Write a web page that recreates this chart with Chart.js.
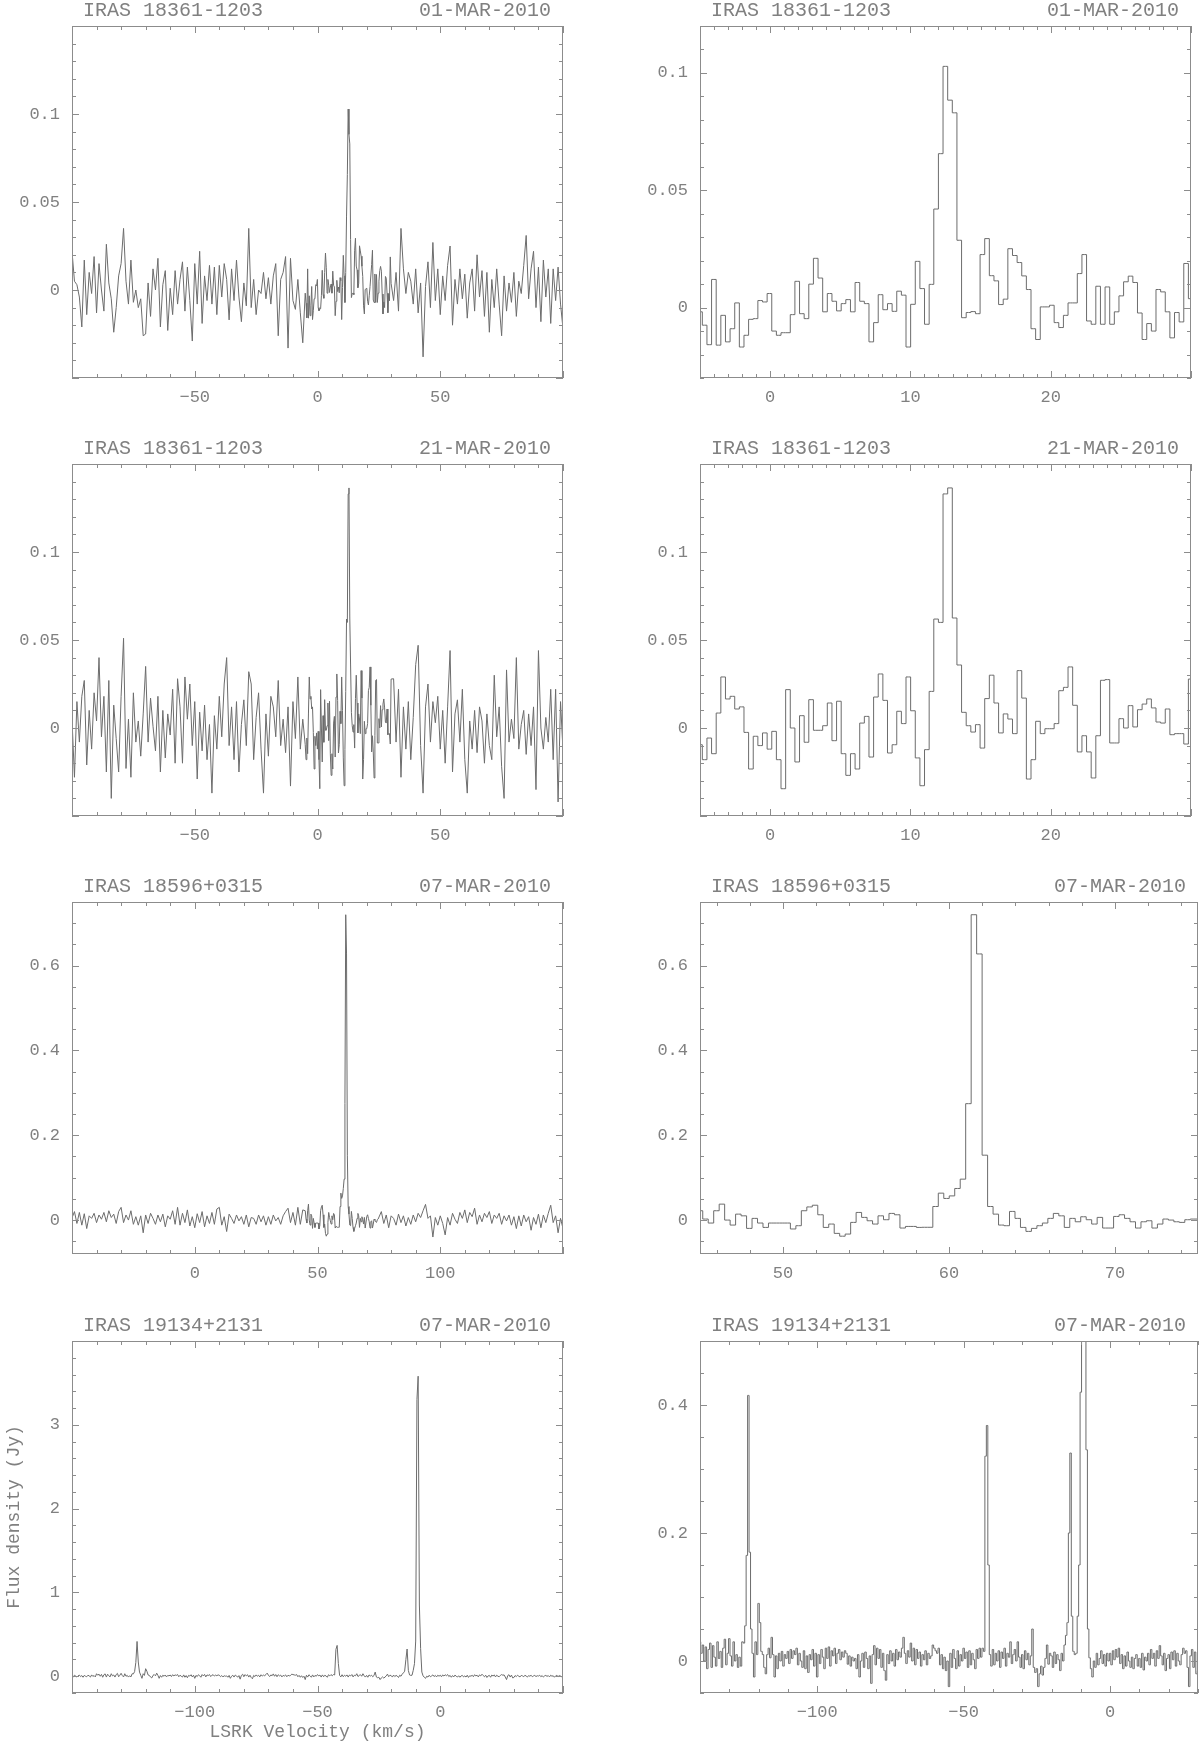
<!DOCTYPE html>
<html>
<head>
<meta charset="utf-8">
<title>Water maser spectra</title>
<script src="https://cdn.jsdelivr.net/npm/chart.js@4.4.0/dist/chart.umd.min.js"></script>
<style>
  html, body { margin: 0; padding: 0; background: #fff; overflow: hidden; }
  body { width: 1200px; height: 1746px; position: relative; }
  canvas { position: absolute; }
</style>
</head>
<body>
<script>
// --- labels of each row (same source in the left and right panel) ---
const sources = ["IRAS 18361-1203", "IRAS 18361-1203", "IRAS 18596+0315", "IRAS 19134+2131"];
const dates = ["01-MAR-2010", "21-MAR-2010", "07-MAR-2010", "07-MAR-2010"];

// --- spectra: flux density (Jy) per channel ---
// rows 1-3: coarse wings (1 km/s) around the fine channels (0.33 km/s) seen in the zoomed panel
const CHAN = 0.33;

const row1WingLeft = [ // -100 .. -6 km/s
  0.022, 0.005, 0.003, -0.004, -0.021, 0.017, -0.014, 0.010, -0.002, 0.019,
  -0.013, 0.015, 0.0, -0.012, 0.026, 0.004, -0.005, -0.024, -0.010, 0.008,
  0.015, 0.035, 0.005, -0.008, 0.017, -0.007, 0.0, -0.01, -0.005, -0.026,
  -0.025, 0.004, -0.015, 0.012, 0.0, 0.018, -0.021, 0.003, 0.011, -0.023,
  0.001, -0.014, 0.011, -0.008, 0.006, 0.016, -0.012, 0.013, -0.006, -0.029,
  0.015, -0.008, 0.022, -0.019, 0.008, -0.006, 0.014, -0.008, 0.013, -0.014,
  0.014, -0.004, 0.015, 0.006, -0.017, 0.012, -0.006, 0.017, -0.004, -0.018,
  0.004, -0.009, 0.035, -0.01, 0.006, -0.014, 0.0, -0.002, 0.01, -0.005,
  0.007, -0.008, 0.008, 0.015, -0.026, 0.006, 0.01, 0.019, -0.033, 0.018,
  -0.006, -0.011, 0.006, -0.013, -0.03
];
const row1Core = [ // from -5.0 km/s
  -0.0018, -0.0075, -0.0158, 0.012, -0.016, -0.0033, -0.0146, -0.009, 0.002, -0.0168,
  -0.0118, -0.005, -0.0047, 0.003, 0.0024, 0.006, -0.01, -0.0118, -0.0107, -0.0107,
  -0.003, 0.0112, -0.0026, -0.0047, 0.01, 0.021, 0.0126, -0.0018, 0.006, 0.0027,
  -0.0014, 0.0017, 0.0034, -0.0018, 0.0107, 0.0027, 0.0017, -0.0146, -0.0064, 0.0055,
  -0.0009, 0.0017, -0.0016, 0.007, 0.0053, -0.0168, 0.0014, 0.0197, 0.0081, -0.0071,
  0.0099, 0.042, 0.0656, 0.1028, 0.0884, 0.083, 0.0287, -0.0043, -0.0021, -0.0017,
  -0.0026, 0.0226, 0.0294, 0.0136, 0.0114, 0.0013, 0.0036, 0.0251, 0.0222, 0.0192,
  0.0135, 0.0077, -0.009, -0.0136, 0.0003, 0.0003, 0.001, -0.0064, -0.0085, -0.0033,
  0.002, 0.002, 0.0145, 0.0226, -0.0057, -0.0071, 0.0091, -0.0071, 0.0088, -0.0071,
  -0.0018, 0.005, 0.011, 0.0134, 0.0107, -0.0023, -0.0136, -0.0068, -0.01, 0.0077,
  0.0067, -0.0018, -0.0129, -0.0021, -0.0061, 0.0188, 0.0038
];
const row1WingRight = [ // 31 .. 100 km/s
  -0.006, 0.01, -0.012, 0.035, 0.012, -0.002, 0.01, 0.005, -0.008, 0.012,
  -0.013, 0.004, -0.038, 0.002, 0.016, -0.01, 0.027, -0.006, 0.012, -0.014,
  0.008, -0.006, 0.014, 0.025, -0.02, 0.006, -0.008, 0.012, -0.005, 0.009,
  -0.016, 0.004, 0.012, -0.012, 0.02, -0.004, 0.011, -0.015, 0.01, -0.024,
  0.006, -0.01, 0.012, -0.008, -0.026, 0.008, -0.012, 0.004, -0.007, 0.01,
  -0.015, 0.005, -0.002, 0.014, 0.031, -0.005, 0.012, 0.022, -0.01, 0.013,
  -0.018, 0.017, -0.004, 0.012, -0.019, 0.012, -0.006, 0.013, -0.008, -0.022
];

const row2WingLeft = [ // -100 .. -6 km/s
  0.005, -0.028, 0.015, -0.008, 0.018, 0.027, -0.021, 0.01, -0.012, 0.02,
  0.004, 0.04, -0.005, 0.018, -0.025, 0.027, -0.04, 0.013, -0.006, -0.025,
  0.018, 0.051, -0.023, 0.005, -0.028, 0.02, -0.008, 0.004, -0.016, 0.008,
  0.035, -0.008, 0.017, 0.001, -0.013, 0.018, -0.025, 0.01, -0.017, 0.008,
  -0.004, 0.022, -0.02, 0.028, 0.012, -0.02, 0.029, 0.005, 0.025, -0.01,
  0.015, -0.029, 0.009, -0.013, 0.013, -0.018, 0.002, -0.037, 0.007, -0.012,
  0.018, -0.005, 0.025, 0.04, -0.01, 0.012, -0.018, 0.015, -0.025, 0.002,
  0.016, -0.01, 0.032, 0.025, -0.018, 0.006, 0.02, -0.012, -0.037, 0.008,
  -0.016, 0.018, 0.012, -0.005, 0.027, -0.01, 0.005, -0.014, 0.012, -0.033,
  0.015, -0.006, 0.029, -0.012, 0.005
];
const row2Core = [ // from -5.0 km/s
  -0.0095, -0.018, -0.0057, -0.0146, 0.0085, 0.029, 0.0165, 0.018, 0.0108, 0.012,
  -0.0025, -0.0233, -0.0047, -0.01, -0.0028, -0.012, -0.0019, -0.018, -0.0345, 0.0218,
  0, -0.0193, 0.007, -0.0081, 0.0161, -0.0013, -0.0013, 0.0013, 0.0142, -0.0072,
  0.0152, -0.0146, -0.0269, -0.0146, -0.0233, 0.0028, 0.0066, -0.0165, 0.0176, 0.0307,
  0.0157, -0.0142, -0.0095, 0.0095, 0.0025, 0.029, 0.0098, -0.017, -0.0328, -0.0123,
  0.0208, 0.0619, 0.06, 0.133, 0.1364, 0.0625, 0.0358, 0.0089, 0.0013, -0.0023,
  0.0019, -0.0114, 0.0167, 0.03, 0.0142, -0.0028, 0.008, 0.0051, -0.0032, 0.0326,
  0.017, -0.029, -0.018, 0.0038, -0.0032, -0.0004, -0.0004, 0.0025, 0.0212, 0.0231,
  0.0347, 0.0129, -0.0136, -0.0044, -0.0136, -0.0284, -0.0044, 0.0271, 0.0275, -0.0085,
  -0.0085, 0.0053, 0, 0.0127, 0.0006, 0.0104, 0.0136, 0.0165, 0.0114, 0.0034,
  0.0028, 0.0108, -0.0038, -0.0032, -0.0032, -0.0091, 0.0278
];
const row2WingRight = [ // 31 .. 100 km/s
  0.028, -0.008, 0.022, -0.028, 0.012, -0.012, 0.015, -0.018, 0.006, 0.036,
  0.047, -0.01, -0.037, 0.012, 0.025, -0.008, 0.015, 0.003, 0.018, -0.012,
  0.01, -0.02, 0.012, 0.044, -0.025, 0.008, 0.016, -0.008, 0.022, -0.018,
  -0.037, 0.004, -0.012, 0.01, -0.014, 0.012, 0.004, -0.02, 0.008, -0.01,
  -0.018, 0.03, -0.005, 0.012, -0.022, -0.04, 0.033, -0.008, 0.005, -0.006,
  0.04, -0.012, 0.002, 0.01, -0.015, 0.008, -0.01, 0.012, -0.035, 0.044,
  0.0, -0.012, 0.006, -0.008, 0.022, -0.018, 0.022, -0.042, 0.015, -0.013
];

const row3WingLeft = [ // -50 .. 44 km/s
  0.005, 0.02, -0.008, 0.018, -0.012, 0.015, -0.02, 0.01, 0.004, 0.016,
  -0.006, 0.012, 0.002, 0.018, -0.004, 0.022, 0.006, 0.014, -0.008, 0.02,
  0.03, -0.006, 0.012, 0.0, 0.022, -0.01, 0.008, -0.012, 0.01, -0.03,
  0.012, -0.008, 0.016, 0.004, -0.01, 0.012, -0.004, 0.014, -0.016, 0.01,
  0.002, 0.022, -0.01, 0.03, -0.012, 0.016, -0.006, 0.024, -0.014, 0.008,
  -0.018, 0.015, -0.006, 0.02, -0.016, 0.01, -0.008, 0.018, -0.01, 0.026,
  0.03, -0.012, 0.008, -0.027, 0.014, 0.004, -0.008, 0.012, -0.002, 0.008,
  -0.01, 0.012, -0.016, 0.006, 0.004, -0.01, 0.012, -0.004, 0.01, -0.012,
  0.008, -0.01, 0.012, -0.002, 0.006, -0.01, 0.01, 0.02, 0.028, -0.006,
  0.018, -0.012, 0.03, -0.01, 0.024
];
const row3Core = [ // from 45.0 km/s
  0.022, 0.0024, -0.007, 0.022, 0.0376, 0, -0.0118, 0.014, 0.01, -0.0196,
  0.004, -0.007, -0.0173, -0.007, -0.007, -0.007, -0.007, -0.021, -0.0133, 0.022,
  0.031, 0.035, 0.0125, -0.0173, -0.0094, -0.0314, -0.038, -0.033, -0.0055, 0.018,
  0.0063, -0.0016, -0.0094, 0.01, 0.0008, 0.0157, 0.0125, -0.0188, -0.015, -0.015,
  -0.0173, -0.017, -0.017, 0.032, 0.0635, 0.051, 0.057, 0.0745, 0.0965, 0.2745,
  0.72, 0.6275, 0.153, 0.032, 0.014, -0.0118, -0.0133, 0.0204, 0.004, -0.0173,
  -0.0267, -0.0196, -0.0133, -0.007, 0.004, 0.0157, 0.01, -0.0173, 0.004, -0.004,
  0.0078, 0.0008, -0.0094, 0.0063, -0.0188, -0.0188, 0.0086, 0.0125, 0.004, -0.004,
  -0.0188, -0.004, -0.0016, -0.0188, -0.0094, 0.0024, 0, -0.004, -0.0055, 0.0008,
  0.0024
];
const row3WingRight = [ // 76 .. 150 km/s
  0.02, -0.008, 0.012, -0.018, 0.01, 0.004, -0.012, 0.014, -0.006, 0.01,
  -0.014, 0.006, -0.01, 0.012, -0.004, 0.016, 0.006, 0.022, 0.037, 0.004,
  0.01, -0.04, 0.006, -0.012, 0.01, -0.008, -0.035, 0.006, -0.012, 0.016,
  0.002, -0.008, 0.018, 0.004, 0.024, -0.006, 0.018, 0.008, 0.028, -0.01,
  0.012, -0.004, 0.016, 0.006, 0.02, -0.008, 0.012, 0.004, 0.016, -0.01,
  0.01, -0.002, 0.012, -0.012, 0.008, -0.02, 0.01, -0.014, 0.012, -0.004,
  0.008, -0.024, 0.006, -0.01, 0.014, -0.018, 0.012, -0.006, 0.016, 0.035,
  -0.006, 0.01, -0.03, 0.004, -0.02
];

// row 4: one grid of 0.5 km/s from -150 to 50 km/s
const row4Flux = [
  0.005, -0.008, 0.012, 0.002, -0.01, 0.006, 0.014, -0.004, 0.008, -0.012, 0.01, 0, -0.006, 0.012, 0.004, -0.01, 0.016, -0.002, 0.008, -0.008,
  0.03, 0.012, 0.025, 0, 0.022, -0.012, 0.018, 0.028, -0.01, 0.024, 0.006, -0.008, 0.03, 0.004, 0.015, -0.01, 0.02, 0.034, -0.006, 0.012,
  0.035, 0.008, -0.008, 0.03, 0, 0.01, -0.01, 0.006, -0.008, 0.03, 0.028, 0.055, 0.165, 0.415, 0.17, 0.05, 0.012, -0.025, 0.03, 0.01,
  0.09, 0.06, 0.015, 0.01, -0.01, -0.02, 0.01, 0.02, 0.005, 0.037, 0.01, -0.025, 0.008, -0.012, 0.012, 0, 0.015, -0.008, 0.01, 0.004,
  0.015, -0.004, 0.018, 0.004, 0.016, 0.01, 0.02, -0.006, 0.012, 0, -0.01, 0.016, -0.012, 0.008, -0.018, 0.01, 0.002, 0.018, -0.008, 0.012,
  -0.025, 0.01, -0.004, 0.018, 0.006, -0.012, 0.02, 0.004, 0.022, -0.008, 0.016, 0.008, 0.02, -0.004, 0.012, 0.018, 0.002, 0.014, 0.006, 0.016,
  0.012, -0.005, 0.008, -0.008, 0.006, 0, 0.004, -0.012, 0.01, -0.025, 0, 0.012, -0.01, 0.014, 0.004, -0.012, 0.008, -0.035, 0.01, 0.024,
  -0.006, 0.02, 0.004, 0.018, -0.01, 0.012, -0.015, -0.03, 0.01, -0.004, 0.016, 0, 0.012, -0.008, 0.018, 0.002, 0.014, 0.006, 0.02, 0.037,
  0.012, -0.004, 0.016, 0.006, 0.028, 0, 0.02, -0.006, 0.018, 0.004, 0.014, -0.008, 0.01, 0.002, 0.016, -0.006, 0.012, 0.004, 0.008, 0.025,
  0.02, 0.016, 0.012, 0.02, -0.006, 0.01, -0.012, 0.006, -0.015, 0, -0.04, 0.012, -0.01, 0.018, 0.004, -0.012, 0.016, -0.008, 0.01, 0,
  0.02, 0.004, 0.014, -0.01, 0.016, -0.006, 0.012, 0.002, -0.012, 0.018, 0.004, 0.02, 0.006, 0.02, 0.015, 0.32, 0.368, 0.15, 0.01, -0.008,
  0.018, -0.006, 0.012, 0, 0.016, -0.01, 0.014, 0.004, 0.02, -0.008, 0.012, 0.006, 0.03, -0.004, 0.01, 0.018, 0, 0.03, 0.006, -0.01,
  0.01, -0.012, 0.016, 0.002, 0.012, -0.006, 0.008, 0.05, -0.01, -0.018, -0.012, -0.04, -0.02, -0.008, -0.022, -0.01, 0.004, 0.025, -0.005, 0.012,
  0.008, -0.01, 0.014, -0.004, 0.01, 0.002, -0.015, 0.012, 0, 0.025, 0.04, 0.06, 0.2, 0.325, 0.07, 0.015, 0.01, 0.012, 0.07, 0.15,
  0.42, 3.3, 3.58, 0.85, 0.33, 0.05, 0.005, -0.012, -0.025, 0, -0.01, 0.012, -0.006, 0.004, 0.016, -0.004, 0.01, -0.008, 0.012, 0,
  0.012, -0.006, 0.016, 0.002, 0.018, 0.006, 0.02, -0.004, 0.01, -0.012, 0.008, -0.008, 0.014, 0, -0.01, 0.006, -0.012, 0.004, 0.01, -0.008,
  0.004, -0.01, 0.012, -0.014, 0.006, 0, 0.012, -0.006, 0.018, 0.004, 0.012, -0.008, 0.016, 0.004, 0.024, 0.008, -0.006, 0.012, -0.015, 0.004,
  0.01, -0.012, 0.014, 0.002, 0.016, -0.008, 0.012, 0, -0.006, 0.01, 0.02, 0.012, 0.016, -0.01, -0.04, 0.008, 0.018, -0.01, 0.014, -0.02,
  -0.015, 0.008, -0.004, 0.012, 0, -0.008, 0.01, 0.004, -0.006, 0.012, 0.002, -0.01, 0.008, 0, 0.012, -0.006, 0.004, 0.01, -0.004, 0.006,
  0.002, 0.012, -0.006, 0.008, -0.01, 0.004, 0.01, -0.002, 0.008, -0.008, 0.012, 0, 0.006, -0.012, 0.004, 0.01, -0.004, 0.008, 0.002, -0.006,
  0.004
];

// --- axes: [min, max] per row, left (full band) and right (zoom) panels ---
const xRangesLeft = [[-100, 100], [-100, 100], [-50, 150], [-150, 50]];
const xRangesRight = [[-5, 30], [-5, 30], [45, 75], [-140, 30]];
const yRangesLeft = [[-0.05, 0.15], [-0.05, 0.15], [-0.08, 0.75], [-0.2, 4]];
const yRangesRight = [[-0.03, 0.12], [-0.05, 0.15], [-0.08, 0.75], [-0.05, 0.5]];
const xMajorLeft = [50, 50, 50, 50];
const xMinorLeft = [10, 10, 10, 10];
const xMajorRight = [10, 10, 10, 50];
const xMinorRight = [1, 1, 2, 10];
const yMajorLeft = [0.05, 0.05, 0.2, 1];
const yMinorLeft = [0.01, 0.01, 0.05, 0.2];
const yMajorRight = [0.05, 0.05, 0.2, 0.2];
const yMinorRight = [0.01, 0.01, 0.05, 0.05];

// --- look ---
const FONT = '"Liberation Mono", "DejaVu Sans Mono", monospace';
const TEXT = "#808080";
const FRAME = "#8c8c8c";
const LINE = "#6c6c6c";

// page layout of the plot frames
const rowTops = [26, 464, 902, 1341];
const colLefts = [72, 700];
const FRAME_W = 498, FRAME_H = 352;

function channels(start, width, flux) {
  return flux.map((y, i) => ({ x: +(start + i * width).toFixed(3), y: y }));
}

const spectra = [
  [...channels(-100, 1, row1WingLeft), ...channels(-5.0, CHAN, row1Core), ...channels(31, 1, row1WingRight)],
  [...channels(-100, 1, row2WingLeft), ...channels(-5.0, CHAN, row2Core), ...channels(31, 1, row2WingRight)],
  [...channels(-50, 1, row3WingLeft), ...channels(45.0, CHAN, row3Core), ...channels(76, 1, row3WingRight)],
  channels(-150, 0.5, row4Flux)
];

// ticks only on multiples of the major step inside the range
function majorTicks(major) {
  return (scale) => {
    const out = [];
    for (let k = Math.ceil(scale.min / major - 1e-9); k * major <= scale.max + 1e-9; k++) {
      out.push({ value: +(k * major).toFixed(6) });
    }
    scale.ticks = out;
  };
}

// no label on the frame edges
function tickLabel(value) {
  if (Math.abs(value - this.min) < 1e-9 || Math.abs(value - this.max) < 1e-9) return "";
  return String(+value.toFixed(4)).replace("-", "\u2212");
}

// box, inward tick marks on all four sides, and the header line
const framePlugin = {
  id: "frame",
  afterDatasetsDraw(chart, args, opts) {
    const { ctx, chartArea: a, scales } = chart;
    ctx.save();
    ctx.strokeStyle = FRAME;
    ctx.lineWidth = 1;
    ctx.strokeRect(a.left + 0.5, a.top + 0.5, a.right - a.left - 1, a.bottom - a.top - 1);

    const seg = (x1, y1, x2, y2) => { ctx.beginPath(); ctx.moveTo(x1, y1); ctx.lineTo(x2, y2); ctx.stroke(); };
    const marks = (scale, minor, major, horizontal) => {
      const first = Math.ceil(scale.min / minor - 1e-6);
      for (let k = first; k * minor <= scale.max + 1e-9; k++) {
        const v = k * minor;
        const isMajor = Math.abs(v / major - Math.round(v / major)) < 1e-6;
        const len = isMajor ? 7 : 4;
        const p = Math.round(scale.getPixelForValue(v)) + 0.5;
        if (horizontal) {
          seg(p, a.bottom, p, a.bottom - len);
          seg(p, a.top, p, a.top + len);
        } else {
          seg(a.left, p, a.left + len, p);
          seg(a.right, p, a.right - len, p);
        }
      }
    };
    marks(scales.x, opts.xMinor, opts.xMajor, true);
    marks(scales.y, opts.yMinor, opts.yMajor, false);

    ctx.fillStyle = TEXT;
    ctx.font = "20px " + FONT;
    ctx.textBaseline = "middle";
    ctx.textAlign = "left";
    ctx.fillText(opts.source, a.left + 11, a.top - 15);
    ctx.textAlign = "right";
    ctx.fillText(opts.date, a.right - 12, a.top - 15);
    ctx.restore();
  }
};

function makeChart(row, col) {
  const padTop = 36, axisLeft = 72, axisBottom = 60, padRight = 2;
  const canvas = document.createElement("canvas");
  canvas.width = axisLeft + FRAME_W + padRight;
  canvas.height = padTop + FRAME_H + axisBottom;
  canvas.style.left = (colLefts[col] - axisLeft) + "px";
  canvas.style.top = (rowTops[row] - padTop) + "px";
  document.body.appendChild(canvas);

  const left = col === 0;
  const xr = left ? xRangesLeft[row] : xRangesRight[row];
  const yr = left ? yRangesLeft[row] : yRangesRight[row];
  const xMajor = left ? xMajorLeft[row] : xMajorRight[row];
  const xMinor = left ? xMinorLeft[row] : xMinorRight[row];
  const yMajor = left ? yMajorLeft[row] : yMajorRight[row];
  const yMinor = left ? yMinorLeft[row] : yMinorRight[row];
  const withTitles = row === 3 && col === 0;

  return new Chart(canvas, {
    type: "line",
    data: {
      datasets: [{
        data: spectra[row],
        borderColor: LINE,
        borderWidth: 1,
        pointRadius: 0,
        // the wide panels are too dense to show the channel steps
        stepped: left ? false : "middle",
        tension: 0,
        fill: false
      }]
    },
    options: {
      responsive: false,
      animation: false,
      events: [],
      parsing: false,
      normalized: true,
      layout: { padding: { top: padTop, right: padRight, left: 0, bottom: 0 } },
      plugins: {
        legend: { display: false },
        tooltip: { enabled: false },
        frame: { source: sources[row], date: dates[row], xMajor, xMinor, yMajor, yMinor }
      },
      scales: {
        x: {
          type: "linear",
          min: xr[0],
          max: xr[1],
          grid: { display: false, drawTicks: false },
          border: { display: false },
          afterBuildTicks: majorTicks(xMajor),
          ticks: {
            autoSkip: false, maxRotation: 0, minRotation: 0, padding: 9,
            color: TEXT, font: { family: FONT, size: 17 },
            callback: tickLabel
          },
          title: {
            display: withTitles, text: "LSRK Velocity (km/s)", color: TEXT,
            font: { family: FONT, size: 18 }, padding: { top: 0, bottom: 10 }
          },
          afterFit: (s) => { s.height = axisBottom; }
        },
        y: {
          type: "linear",
          min: yr[0],
          max: yr[1],
          grid: { display: false, drawTicks: false },
          border: { display: false },
          afterBuildTicks: majorTicks(yMajor),
          ticks: {
            autoSkip: false, padding: 12,
            color: TEXT, font: { family: FONT, size: 17 },
            callback: tickLabel
          },
          title: {
            display: withTitles, text: "Flux density (Jy)", color: TEXT,
            font: { family: FONT, size: 18 }, padding: { top: 3, bottom: 0 }
          },
          afterFit: (s) => { s.width = axisLeft; }
        }
      }
    },
    plugins: [framePlugin]
  });
}

for (let row = 0; row < 4; row++) {
  makeChart(row, 0);
  makeChart(row, 1);
}
</script>
</body>
</html>
